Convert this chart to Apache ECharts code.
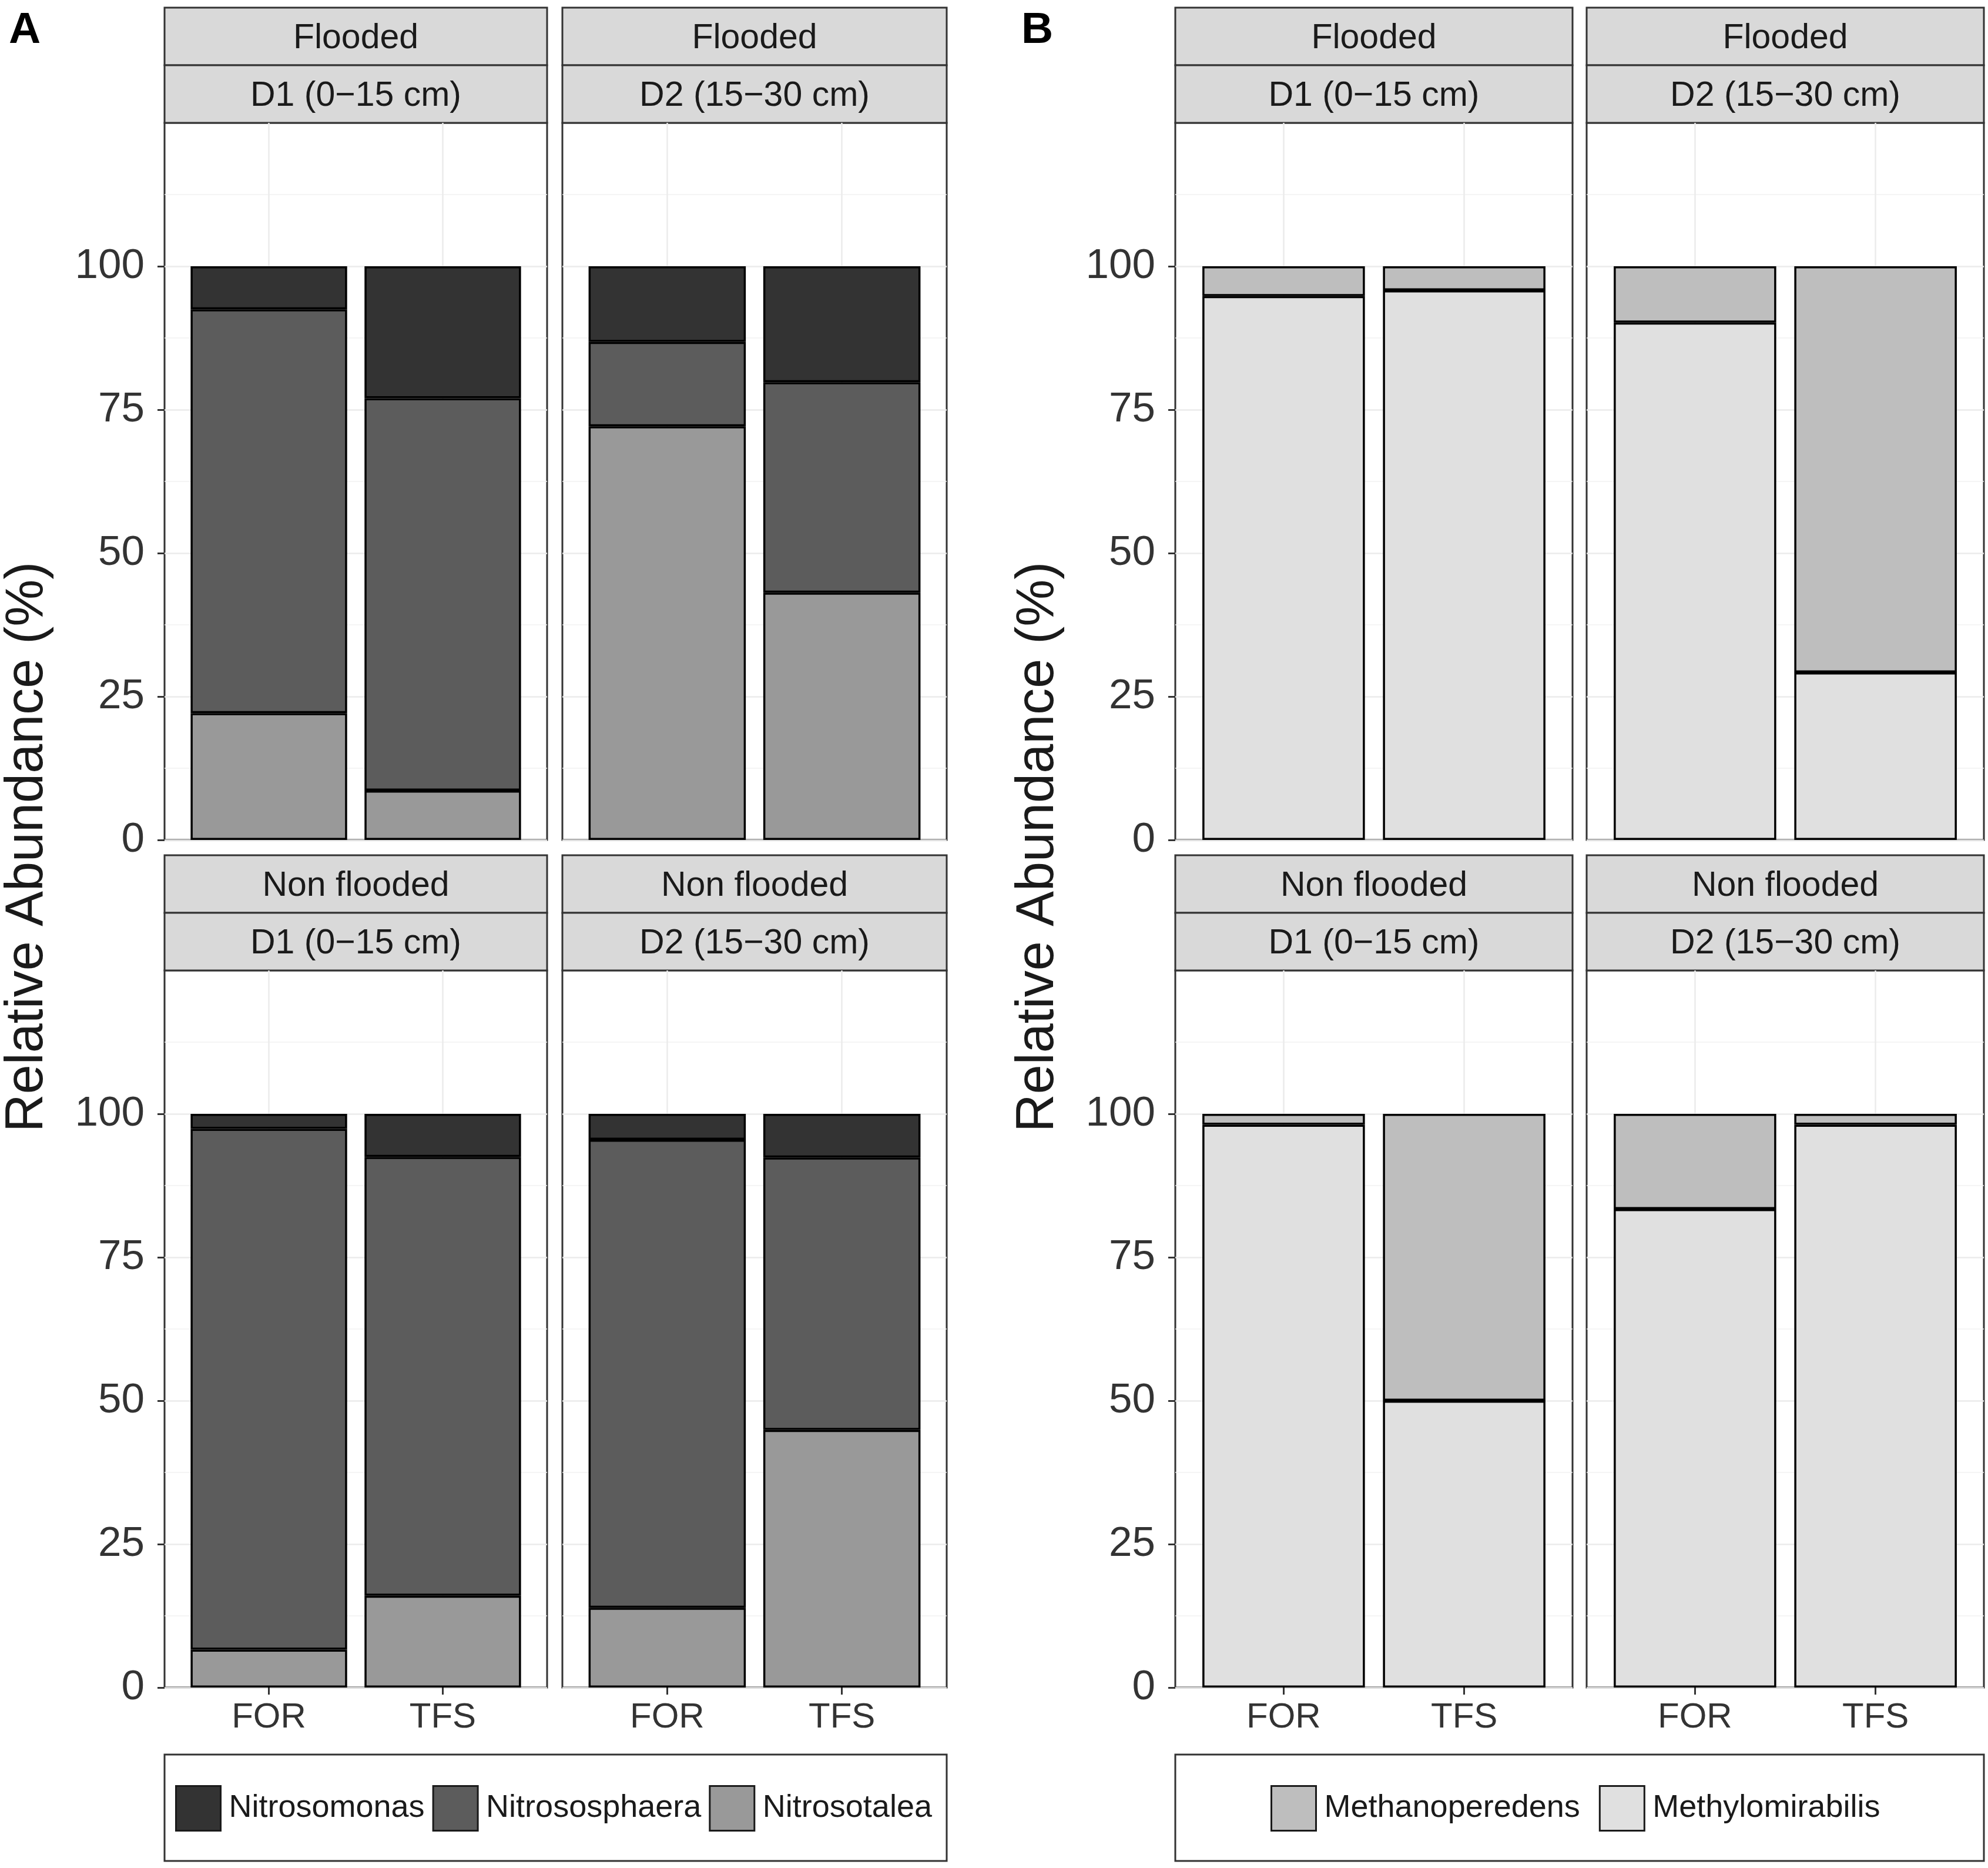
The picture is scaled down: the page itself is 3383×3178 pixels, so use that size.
<!DOCTYPE html>
<html>
<head>
<meta charset="utf-8">
<title>Relative Abundance</title>
<script src="https://cdn.jsdelivr.net/npm/echarts@6.0.0/dist/echarts.min.js"></script>
<style>
	html,body{margin:0;padding:0;background:#fff;}
	#chart{width:3383px;height:3178px;}
</style>
</head>
<body>
<div id="chart"></div>
<script>
// categories / facet labels
var sites = ['FOR', 'TFS'];
var panelFlood = ['Flooded', 'Flooded', 'Non flooded', 'Non flooded'];
var panelDepth = ['D1 (0\u221215 cm)', 'D2 (15\u221230 cm)', 'D1 (0\u221215 cm)', 'D2 (15\u221230 cm)'];
var yTicks = [0, 25, 50, 75, 100];

// A - one [FOR, TFS] pair per panel: Flooded D1, Flooded D2, Non flooded D1, Non flooded D2
var nitrosomonas   = [[7.5, 23.0], [13.2, 20.2], [2.6, 7.5], [4.5, 7.6]];
var nitrososphaera = [[70.4, 68.4], [14.7, 36.7], [90.8, 76.5], [81.6, 47.5]];
var nitrosotalea   = [[22.1, 8.6], [72.1, 43.1], [6.6, 16.0], [13.9, 44.9]];

// B - same panel order
var methanoperedens  = [[5.2, 4.2], [9.8, 70.8], [1.9, 50.0], [16.6, 1.9]];
var methylomirabilis = [[94.8, 95.8], [90.2, 29.2], [98.1, 50.0], [83.4, 98.1]];

(function(){
	var FONT = '"Liberation Sans", Arial, Helvetica, sans-serif';
	var rowTop = [209, 1651];   // top of plot area, each row
	var plotH = 1220;
	var stripH = 98;
	var colsA = [[280, 651], [957, 654]];   // [left, width]
	var colsB = [[2000, 676], [2700, 676]];

	var grids = [], xAxes = [], yAxes = [], series = [], graphics = [];

	function addPanel(cols, p, taxa, values, colors){
		var row = p < 2 ? 0 : 1, col = p % 2;
		var left = cols[col][0], w = cols[col][1], top = rowTop[row];
		var u = w / 2.2;   // ggplot discrete scale: 0.6 + 1 + 0.6

		//frame grid: border, grid lines, y axis
		var f = grids.length;
		grids.push({left: left, top: top, width: w, height: plotH, show: true,
			borderColor: '#333', borderWidth: 3});
		xAxes.push({
			gridIndex: f, type: 'value', min: 0, max: 2.2,
			axisLine: {show: false},
			axisTick: {show: false, customValues: [0.6, 1.6]},
			axisLabel: {show: false},
			splitLine: {show: true, lineStyle: {color: '#ebebeb', width: 2.5}}
		});
		yAxes.push({
			gridIndex: f, type: 'value', min: 0, max: 125, interval: 25,
			axisLine: {show: false},
			axisTick: {show: col === 0, length: 12, customValues: yTicks,
				lineStyle: {color: '#333', width: 3}},
			axisLabel: {show: col === 0, customValues: yTicks, fontSize: 71, color: '#333',
				fontFamily: FONT, margin: 34,
				formatter: function(v){ return v > 100 ? '' : v; }},
			splitLine: {show: true, lineStyle: {color: '#ebebeb', width: 2.5}},
			minorTick: {show: false, splitNumber: 2},
			minorSplitLine: {show: true, lineStyle: {color: '#f2f2f2', width: 1.5}}
		});

		//data grid: bars on the category axis
		var d = grids.length;
		grids.push({left: left + 0.1 * u, top: top, width: 2 * u, height: plotH});
		xAxes.push({
			gridIndex: d, type: 'category', data: sites,
			axisLine: {show: false},
			axisTick: {show: row === 1, alignWithLabel: true, length: 12,
				lineStyle: {color: '#333', width: 3}},
			axisLabel: {show: row === 1, fontSize: 60, color: '#333', fontFamily: FONT, margin: 21},
			splitLine: {show: false}
		});
		yAxes.push({gridIndex: d, type: 'value', min: 0, max: 125, show: false});

		for (var t = 0; t < taxa.length; t++) {
			series.push({
				name: taxa[t],
				type: 'bar',
				xAxisIndex: d,
				yAxisIndex: d,
				stack: 'panel' + d,
				barWidth: '90%',
				data: values[t][p],
				itemStyle: {color: colors[t], borderColor: '#000', borderWidth: 3.5}
			});
		}

		//facet strips
		var labels = [panelFlood[p], panelDepth[p]];
		for (var s = 0; s < 2; s++) {
			var sy = top - stripH * (2 - s);
			graphics.push({type: 'rect', shape: {x: left, y: sy, width: w, height: stripH},
				style: {fill: '#d9d9d9', stroke: '#333', lineWidth: 3}});
			graphics.push({type: 'text', x: left + w / 2, y: sy + stripH / 2 + 4,
				style: {text: labels[s], align: 'center', verticalAlign: 'middle',
					fontSize: 59, fontFamily: FONT, fill: '#1a1a1a'}});
		}
	}

	// stacking goes bottom to top
	var taxaA = ['Nitrosotalea', 'Nitrososphaera', 'Nitrosomonas'];
	var valsA = [nitrosotalea, nitrososphaera, nitrosomonas];
	var colA = ['#999999', '#5c5c5c', '#333333'];
	var taxaB = ['Methylomirabilis', 'Methanoperedens'];
	var valsB = [methylomirabilis, methanoperedens];
	var colB = ['#e0e0e0', '#bebebe'];

	for (var p = 0; p < 4; p++) addPanel(colsA, p, taxaA, valsA, colA);
	for (p = 0; p < 4; p++) addPanel(colsB, p, taxaB, valsB, colB);

	//legend boxes
	graphics.push({type: 'rect', shape: {x: 280, y: 2985, width: 1331, height: 181},
		style: {fill: '#fff', stroke: '#333', lineWidth: 3}});
	graphics.push({type: 'rect', shape: {x: 2000, y: 2985, width: 1376, height: 181},
		style: {fill: '#fff', stroke: '#333', lineWidth: 3}});

	//y titles and panel letters
	[[47, 'A', 42], [1767, 'B', 1765]].forEach(function(a){
		graphics.push({type: 'text', x: a[0], y: 1441, rotation: Math.PI / 2,
			style: {text: 'Relative Abundance (%)', align: 'center', verticalAlign: 'middle',
				fontSize: 90, fontFamily: FONT, fill: '#1a1a1a'}});
		graphics.push({type: 'text', x: a[2], y: 52,
			style: {text: a[1], align: 'center', verticalAlign: 'middle',
				fontSize: 75, fontWeight: 'bold', fontFamily: FONT, fill: '#000'}});
	});

	function legend(left, names, gap){
		return {
			data: names,
			left: left,
			top: 3037,
			padding: 0,
			icon: 'rect',
			itemWidth: 76,
			itemHeight: 76,
			itemGap: gap,
			itemStyle: {borderColor: '#1a1a1a', borderWidth: 3},
			textStyle: {fontSize: 54, color: '#1a1a1a', fontFamily: FONT, padding: [0, 0, 0, 9]}
		};
	}

	var myChart = echarts.init(document.getElementById('chart'));
	var option = {
		animation: false,
		textStyle: {fontFamily: FONT},
		grid: grids,
		xAxis: xAxes,
		yAxis: yAxes,
		legend: [
			legend(298, ['Nitrosomonas', 'Nitrososphaera', 'Nitrosotalea'], 13),
			legend(2162, ['Methanoperedens', 'Methylomirabilis'], 32)
		],
		graphic: graphics,
		series: series
	};
	myChart.setOption(option);
	window.addEventListener('resize', function(){
		myChart.resize();
	});
})();
</script>
</body>
</html>
